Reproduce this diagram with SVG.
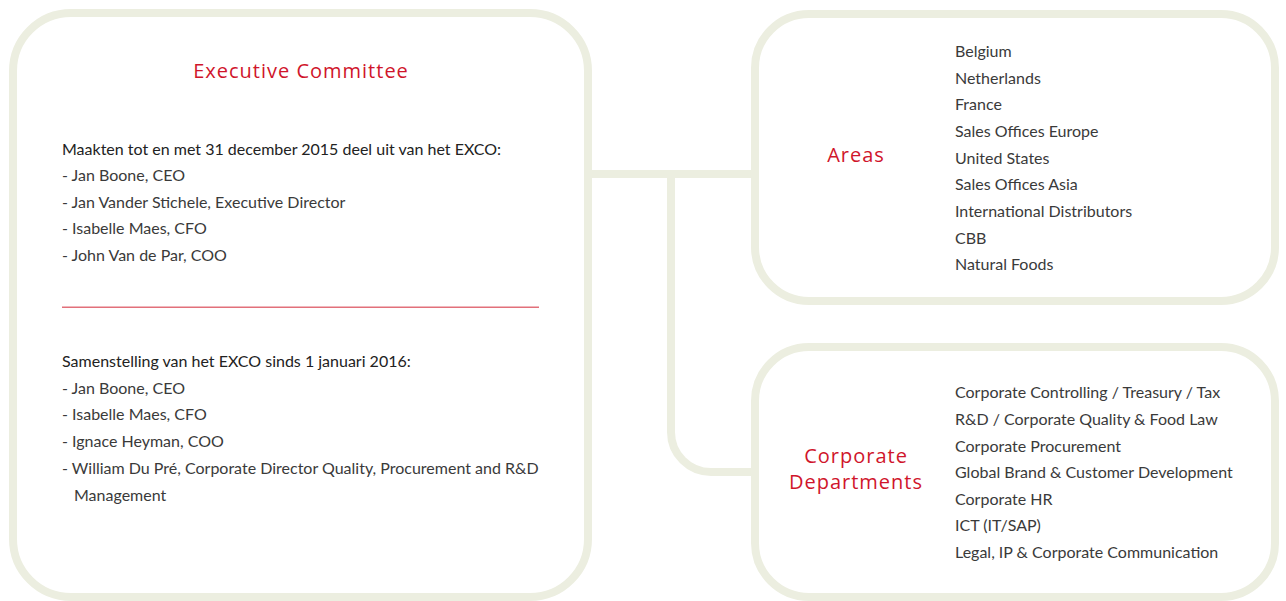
<svg xmlns="http://www.w3.org/2000/svg" width="1286" height="601" viewBox="0 0 1286 601">
<style>
.box{fill:#fff;stroke:#ECEEE0;stroke-width:8}
.conn{fill:none;stroke:#ECEEE0;stroke-width:8}
.title{font-family:"Open Sans","Noto Sans",sans-serif;font-size:20px;letter-spacing:1px;fill:#D0152B;text-anchor:middle}
.body{font-family:Lato,"Liberation Sans",sans-serif;font-size:16px;fill:#3a3a3a}
.head{font-family:Lato,"Liberation Sans",sans-serif;font-size:16px;fill:#222}
</style>
<rect width="1286" height="601" fill="#fff"/>
<g id="connectors">
<path class="conn" d="M588 174 H755"/>
<path class="conn" d="M671 174 V432 A40 40 0 0 0 711 472 H755"/>
</g>
<g id="exco">
<rect class="box" x="13" y="13" width="575" height="584" rx="58"/>
<text class="title" x="301" y="78">Executive Committee</text>
<text class="head" x="62" y="155">Maakten tot en met 31 december 2015 deel uit van het EXCO:</text>
<text class="body" x="62" y="181">- Jan Boone, CEO</text>
<text class="body" x="62" y="208">- Jan Vander Stichele, Executive Director</text>
<text class="body" x="62" y="234">- Isabelle Maes, CFO</text>
<text class="body" x="62" y="261">- John Van de Par, COO</text>
<rect x="62" y="306.5" width="477" height="1.5" fill="#E2707A"/>
<text class="head" x="62" y="367">Samenstelling van het EXCO sinds 1 januari 2016:</text>
<text class="body" x="62" y="394">- Jan Boone, CEO</text>
<text class="body" x="62" y="420">- Isabelle Maes, CFO</text>
<text class="body" x="62" y="447">- Ignace Heyman, COO</text>
<text class="body" x="62" y="474">- William Du Pré, Corporate Director Quality, Procurement and R&amp;D</text>
<text class="body" x="74" y="501">Management</text>
</g>
<g id="areas">
<rect class="box" x="755" y="14" width="520" height="287" rx="54"/>
<text class="title" x="856" y="162">Areas</text>
<text class="body" x="955" y="57">Belgium</text>
<text class="body" x="955" y="84">Netherlands</text>
<text class="body" x="955" y="110">France</text>
<text class="body" x="955" y="137">Sales Offices Europe</text>
<text class="body" x="955" y="164">United States</text>
<text class="body" x="955" y="190">Sales Offices Asia</text>
<text class="body" x="955" y="217">International Distributors</text>
<text class="body" x="955" y="244">CBB</text>
<text class="body" x="955" y="270">Natural Foods</text>
</g>
<g id="corporate">
<rect class="box" x="755" y="347" width="520" height="250" rx="54"/>
<text class="title" x="856" y="463">Corporate</text>
<text class="title" x="856" y="489">Departments</text>
<text class="body" x="955" y="398">Corporate Controlling / Treasury / Tax</text>
<text class="body" x="955" y="425">R&amp;D / Corporate Quality &amp; Food Law</text>
<text class="body" x="955" y="452">Corporate Procurement</text>
<text class="body" x="955" y="478">Global Brand &amp; Customer Development</text>
<text class="body" x="955" y="505">Corporate HR</text>
<text class="body" x="955" y="531">ICT (IT/SAP)</text>
<text class="body" x="955" y="558">Legal, IP &amp; Corporate Communication</text>
</g>
</svg>
